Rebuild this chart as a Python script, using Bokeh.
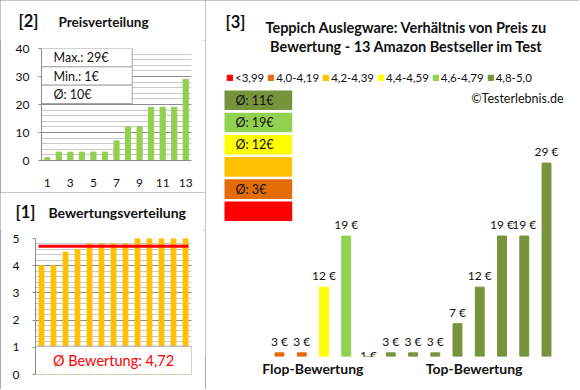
import statistics
from bokeh.plotting import figure
from bokeh.layouts import row, column
from bokeh.models import Range1d, Label, SingleIntervalTicker, FixedTicker
from bokeh.core.properties import value
from bokeh.embed import file_html
from bokeh.resources import INLINE

# ---------------- data ----------------
price_rank = list(range(1, 14))
prices_sorted = [1, 3, 3, 3, 3, 3, 7, 12, 12, 19, 19, 19, 29]

rating_rank = list(range(1, 14))
ratings_sorted = [4.0, 4.0, 4.5, 4.6, 4.8, 4.8, 4.8, 4.8, 5.0, 5.0, 5.0, 5.0, 5.0]

product_pos = list(range(1, 14))
product_prices = [3, 3, 12, 19, 1, 3, 3, 3, 7, 12, 19, 19, 29]
product_class = ["4,0-4,19", "4,0-4,19", "4,4-4,59", "4,6-4,79"] + ["4,8-5,0"] * 9

class_labels = ["<3,99", "4,0-4,19", "4,2-4,39", "4,4-4,59", "4,6-4,79", "4,8-5,0"]
class_colors = ["#FF0000", "#E36C09", "#FFC000", "#FFFF00", "#92D050", "#77933C"]

group_names = ["Flop-Bewertung", "Top-Bewertung"]
group_centers = [2.5, 9.75]

FONT = "Lato"
TXT = "#111111"
GRID_MAJ = "#8c8c8c"
GRID_MIN = "#c8c8c8"
BORDER = "#8c8c8c"
OUTLINE = {"outline": "1px solid " + BORDER, "outline-offset": "-1px"}


class Geom:
    """Converts panel pixel positions into data coordinates of a figure."""
    def __init__(self, ml, mt, fw, fh, xr, yr):
        self.ml, self.mt, self.fw, self.fh = ml, mt, fw, fh
        self.xr, self.yr = xr, yr

    def x(self, cx):
        return self.xr[0] + (cx - self.ml) / self.fw * (self.xr[1] - self.xr[0])

    def y(self, cy):
        return self.yr[1] - (cy - self.mt) / self.fh * (self.yr[1] - self.yr[0])


def no_frame_align(p):
    try:
        p.frame_align = False
    except Exception:
        pass


def make_fig(w, h, ml, mr, mt, mb, xr, yr, outline=True):
    p = figure(width=w, height=h, output_backend="svg", toolbar_location=None,
               x_range=Range1d(*xr), y_range=Range1d(*yr),
               min_border_left=ml, min_border_right=mr,
               min_border_top=mt, min_border_bottom=mb)
    p.outline_line_color = None
    p.background_fill_color = "white"
    p.border_fill_color = "white"
    no_frame_align(p)
    if outline:
        p.styles = OUTLINE
    return p


def title_strip(w, h, items):
    t = figure(width=w, height=h, output_backend="svg", toolbar_location=None,
               x_range=Range1d(0, w), y_range=Range1d(h, 0),
               x_axis_location=None, y_axis_location=None,
               min_border_left=0, min_border_right=0, min_border_top=0, min_border_bottom=0)
    t.outline_line_color = None
    t.grid.visible = False
    t.border_fill_color = "white"
    t.background_fill_color = "white"
    no_frame_align(t)
    for x, y, text, size in items:
        t.text(x=[x], y=[y], text=[text], text_font=value(FONT), text_font_size=f"{size}px",
               text_font_style="bold", text_color=TXT, text_baseline="middle")
    return t


def add_label(p, g, cx, cy, text, size, bold=False, color=TXT, align="left"):
    p.add_layout(Label(x=g.x(cx), y=g.y(cy), text=text, text_font=FONT,
                       text_font_size=f"{size}px",
                       text_font_style="bold" if bold else "normal",
                       text_color=color, text_align=align, text_baseline="middle"))


def style_yaxis(p, standoff):
    ax = p.yaxis[0]
    ax.axis_line_color = GRID_MAJ
    ax.major_tick_line_color = GRID_MAJ
    ax.major_tick_out = 3
    ax.major_tick_in = 0
    ax.minor_tick_line_color = None
    ax.major_label_standoff = standoff
    ax.major_label_text_font = FONT
    ax.major_label_text_font_size = "12px"
    ax.major_label_text_color = TXT
    p.ygrid.grid_line_color = GRID_MAJ
    p.ygrid.minor_grid_line_color = GRID_MIN
    p.xgrid.grid_line_color = None


# ---------------- panel [2] Preisverteilung (205 x 192) ----------------
t2 = title_strip(205, 40, [(18, 20, "[2]", 16.5), (58, 21, "Preisverteilung", 13.5)])
xr2, yr2 = (0.5, 13.5), (0, 40)
p2 = make_fig(205, 152, 41, 14, 8, 32, xr2, yr2, outline=False)
g2 = Geom(41, 48, 150, 112, xr2, yr2)
p2.yaxis.ticker = SingleIntervalTicker(interval=10, num_minor_ticks=5)
style_yaxis(p2, 8)
ax = p2.xaxis[0]
ax.ticker = FixedTicker(ticks=price_rank[::2])
ax.axis_line_color = GRID_MAJ
ax.major_tick_line_color = None
ax.minor_tick_line_color = None
ax.major_label_standoff = 12
ax.major_label_text_font = FONT
ax.major_label_text_font_size = "12px"
ax.major_label_text_color = TXT

p2.vbar(x=price_rank, top=prices_sorted, width=0.45, color="#92D050")

box_texts = [f"Max.: {max(prices_sorted)}€", f"Min.: {min(prices_sorted)}€",
             f"Ø: {round(statistics.mean(prices_sorted))}€"]
bx0, bx1 = g2.x(41), g2.x(131.7)
by_top, by_bot = g2.y(48), g2.y(103)
rh = (by_top - by_bot) / 3
for i, t in enumerate(box_texts):
    top = by_top - i * rh
    p2.quad(left=bx0, right=bx1, top=top, bottom=top - rh,
            fill_color="white", line_color="#a6a6a6", line_width=1)
    p2.text(x=[g2.x(53)], y=[top - rh / 2], text=[t], text_font=value(FONT),
            text_font_size="12.5px", text_color=TXT, text_baseline="middle")

# ---------------- panel [1] Bewertungsverteilung (205 x 197) ----------------
t1 = title_strip(205, 38, [(15, 19, "[1]", 16.5), (48, 19.5, "Bewertungsverteilung", 14)])
xr1, yr1 = (0.5, 13.5), (0, 5)
p1 = make_fig(205, 159, 35, 14, 8, 15, xr1, yr1, outline=False)
g1 = Geom(35, 46, 156, 136, xr1, yr1)
p1.yaxis.ticker = SingleIntervalTicker(interval=1, num_minor_ticks=5)
style_yaxis(p1, 12)
p1.xaxis.visible = False

p1.vbar(x=rating_rank, top=ratings_sorted, width=0.4, color="#FFC000")
avg_rating = statistics.mean(ratings_sorted)
p1.segment(x0=[rating_rank[0] - 0.25], x1=[rating_rank[-1] + 0.25],
           y0=[avg_rating], y1=[avg_rating], line_color="#FF0000", line_width=3)
box_top = g1.y(153.7)
p1.quad(left=xr1[0], right=xr1[1], bottom=yr1[0], top=box_top,
        fill_color="white", line_color="#a6a6a6", line_width=1)
p1.text(x=[sum(xr1) / 2], y=[box_top / 2], text=[f"Ø Bewertung: {avg_rating:.2f}".replace(".", ",")],
        text_font=value(FONT), text_font_size="14.5px", text_color="#FF0000",
        text_align="center", text_baseline="middle")

# ---------------- panel [3] Preis vs Bewertung (374 x 389) ----------------
W3, H3, MB3 = 374, 389, 33
pitch = 22.25
x3 = (1 - 74 / pitch, 1 - 74 / pitch + W3 / pitch)
y3 = (2.5, 2.5 + (H3 - MB3) / 7.3)
p3 = make_fig(W3, H3, 0, 0, 0, MB3, x3, y3)
g3 = Geom(0, 0, W3, H3 - MB3, x3, y3)
p3.yaxis.visible = False
p3.xgrid.grid_line_color = None
p3.ygrid.grid_line_color = None
ax = p3.xaxis[0]
ax.ticker = FixedTicker(ticks=group_centers)
ax.major_label_overrides = {c: n for c, n in zip(group_centers, group_names)}
ax.axis_line_color = None
ax.major_tick_line_color = None
ax.minor_tick_line_color = None
ax.major_label_standoff = -3
ax.major_label_text_font = FONT
ax.major_label_text_font_size = "14px"
ax.major_label_text_font_style = "bold"
ax.major_label_text_color = TXT

for lab, col in zip(class_labels, class_colors):
    xs = [x for x, c in zip(product_pos, product_class) if c == lab]
    ys = [v for v, c in zip(product_prices, product_class) if c == lab]
    if not xs:  # class without products: keep a legend entry, draw nothing
        xs, ys = [float("nan")], [float("nan")]
    p3.vbar(x=xs, top=ys, bottom=0, width=0.4, color=col, legend_label=lab)

p3.text(x=product_pos, y=product_prices, text=[f"{v} €" for v in product_prices],
        text_font=value(FONT), text_font_size="12px", text_color=TXT,
        text_align="center", text_baseline="bottom", y_offset=-4)

lg = p3.legend[0]
lg.orientation = "horizontal"
lg.location = (21, 272)
lg.label_text_font = FONT
lg.label_text_font_size = "11.5px"
lg.label_text_color = TXT
lg.glyph_width = 7
lg.glyph_height = 7
lg.label_standoff = 2
lg.spacing = 3
lg.padding = 0
lg.margin = 0
lg.label_height = 12
lg.label_width = 10
lg.border_line_color = None
lg.background_fill_alpha = 0

# average price boxes per rating class (top: best class)
box_l, box_r = g3.x(19), g3.x(86.7)
for k, (lab, col) in enumerate(zip(reversed(class_labels), reversed(class_colors))):
    top_px = 90 + k * 22.2
    p3.quad(left=box_l, right=box_r, top=g3.y(top_px), bottom=g3.y(top_px + 19.6),
            fill_color=col, line_color=None)
    vals = [v for v, c in zip(product_prices, product_class) if c == lab]
    if vals:
        add_label(p3, g3, 30, top_px + 10, f"Ø: {round(statistics.mean(vals))}€", 12.5)

add_label(p3, g3, 20, 21, "[3]", 16.5, bold=True)
add_label(p3, g3, 201, 26.5, "Teppich Auslegware: Verhältnis von Preis zu", 14.5, bold=True, align="center")
add_label(p3, g3, 201, 46, "Bewertung - 13 Amazon Bestseller im Test", 14.5, bold=True, align="center")
add_label(p3, g3, 358, 98, "©Testerlebnis.de", 12.5, align="right")

left_top = column(t2, p2, styles=OUTLINE)
left_bot = column(t1, p1, styles=OUTLINE)
layout = row(column(left_top, left_bot), p3)
open("out.html", "w").write(file_html(layout, INLINE))
